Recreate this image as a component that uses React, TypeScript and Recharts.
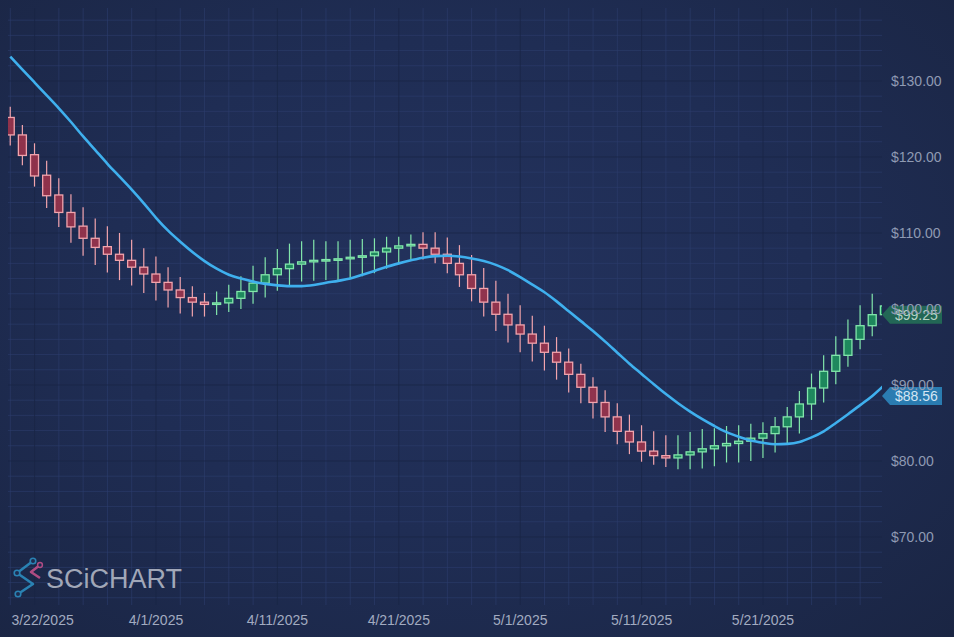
import React from 'react';
import { ComposedChart, Bar, Line, XAxis, YAxis, CartesianGrid, ReferenceDot } from 'recharts';

// ---- data ----
const opens = [
  125.2, 122.9, 120.3, 117.6, 115.0, 112.7, 110.9, 109.3, 108.2, 107.2,
  106.4, 105.5, 104.6, 103.5, 102.5, 101.5, 100.9, 100.6, 100.8, 101.4,
  102.3, 103.4, 104.5, 105.3, 105.9, 106.2, 106.4, 106.5, 106.6, 106.8,
  107.0, 107.5, 108.0, 108.3, 108.5, 108.0, 107.2, 106.0, 104.5, 102.7,
  100.9, 99.3, 97.9, 96.7, 95.5, 94.3, 93.0, 91.4, 89.7, 87.7,
  85.8, 83.9, 82.5, 81.3, 80.7, 80.4, 80.8, 81.2, 81.6, 82.0,
  82.3, 82.6, 83.0, 83.6, 84.5, 85.8, 87.5, 89.6, 91.8, 93.9,
  96.0, 97.8, 99.25,
];
const highs = [
  126.6, 124.2, 121.8, 119.5, 117.2, 115.1, 113.4, 111.9, 110.9, 110.0,
  109.1, 108.0, 106.9, 105.5, 104.2, 103.0, 102.1, 102.3, 103.2, 104.3,
  105.7, 106.8, 107.9, 108.6, 108.9, 109.1, 108.9, 108.9, 109.1, 109.2,
  109.3, 109.5, 109.5, 109.8, 110.1, 110.1, 109.4, 108.4, 107.1, 105.4,
  103.7, 102.0, 100.5, 99.1, 97.8, 96.3, 94.8, 92.8, 91.0, 89.3,
  87.6, 86.1, 84.7, 83.9, 83.4, 83.4, 83.8, 84.2, 84.3, 84.6,
  84.7, 84.9, 85.1, 85.8, 87.1, 89.2, 91.5, 93.9, 96.4, 98.6,
  100.5, 102.0, 101.5,
];
const lows = [
  121.5, 118.9, 116.1, 113.3, 110.8, 108.7, 107.0, 105.8, 104.8, 103.8,
  103.1, 102.1, 101.1, 100.2, 99.4, 99.0, 99.0, 99.2, 99.6, 100.0,
  100.7, 101.5, 102.4, 103.1, 103.6, 103.7, 103.8, 103.8, 104.0, 104.3,
  104.7, 105.3, 106.0, 106.5, 106.5, 106.0, 104.7, 102.9, 101.0, 99.0,
  97.1, 95.6, 94.3, 93.1, 91.9, 90.7, 89.0, 87.6, 85.6, 83.8,
  82.2, 80.9, 79.9, 79.5, 79.2, 78.9, 78.9, 79.0, 79.3, 79.8,
  79.8, 80.0, 80.4, 81.1, 82.1, 83.6, 85.4, 87.7, 90.1, 92.4,
  94.7, 96.4, 98.0,
];
const closes = [
  122.9, 120.2, 117.5, 114.9, 112.7, 110.8, 109.3, 108.1, 107.2, 106.4,
  105.5, 104.6, 103.5, 102.5, 101.5, 100.9, 100.6, 100.8, 101.4, 102.3,
  103.4, 104.5, 105.3, 105.9, 106.2, 106.4, 106.5, 106.6, 106.8, 107.0,
  107.5, 108.0, 108.3, 108.5, 108.0, 107.2, 106.0, 104.5, 102.7, 100.9,
  99.3, 97.9, 96.7, 95.5, 94.3, 93.0, 91.4, 89.7, 87.7, 85.8,
  83.9, 82.5, 81.3, 80.7, 80.4, 80.8, 81.2, 81.6, 82.0, 82.3,
  82.6, 83.0, 83.6, 84.5, 85.8, 87.5, 89.6, 91.8, 93.9, 96.0,
  97.8, 99.25, 100.4,
];
const trendLine = [
  133.2, 131.5, 129.8, 128.1, 126.4, 124.6, 122.7, 120.9, 119.1, 117.4,
  115.7, 113.9, 112.0, 110.3, 108.85, 107.5, 106.3, 105.3, 104.5, 104.0,
  103.6, 103.3, 103.1, 103.0, 103.0, 103.15, 103.45, 103.7, 104.0, 104.5,
  105.0, 105.55, 106.0, 106.4, 106.75, 106.95, 107.0, 106.9, 106.65, 106.3,
  105.8, 105.1, 104.2, 103.2, 102.2, 101.0, 99.7, 98.4, 97.1, 95.7,
  94.25, 92.8, 91.45, 90.1, 88.8, 87.6, 86.5, 85.5, 84.6, 83.8,
  83.2, 82.7, 82.4, 82.2, 82.25, 82.5, 83.1, 83.9, 85.0, 86.15,
  87.35, 88.56, 90.0,
];

const tickDays = [2, 12, 22, 32, 42, 52, 62];
const tickLabels = ['3/22/2025', '4/1/2025', '4/11/2025', '4/21/2025', '5/1/2025', '5/11/2025', '5/21/2025'];
const priceTicks = [70, 80, 90, 100, 110, 120, 130];
const minorPriceLines = [
  62, 64, 66, 68, 72, 74, 76, 78, 82, 84, 86, 88, 92, 94, 96, 98,
  102, 104, 106, 108, 112, 114, 116, 118, 122, 124, 126, 128, 132, 134, 136, 138,
];
const minorDayLines = [
  0, 4, 6, 8, 10, 14, 16, 18, 20, 24, 26, 28, 30, 34, 36, 38,
  40, 44, 46, 48, 50, 54, 56, 58, 60, 64, 66, 68, 70,
];
const xDomain: [number, number] = [-0.19, 71.8];
const yDomain: [number, number] = [61.05, 139.6];
const lastPrice = 99.25;
const lastTrend = 88.56;

const rows = opens.map((o, i) => ({
  day: i,
  open: o,
  high: highs[i],
  low: lows[i],
  close: closes[i],
  range: [lows[i], highs[i]],
  trend: trendLine[i],
}));

const FONT = '"Liberation Sans", Arial, Helvetica, sans-serif';

function mapScale(axis: any, v: number): number {
  const s = axis && axis.scale;
  if (typeof s === 'function') return s(v);
  if (s && typeof s.map === 'function') return s.map(v);
  return NaN;
}

const Candle = (props: any) => {
  const { x, y, width, height, payload } = props;
  if (!payload || !Number.isFinite(x) || !Number.isFinite(y)) return null;
  const { open, close, high, low } = payload;
  const top = Math.min(y, y + height);
  const h = Math.abs(height);
  const span = high - low;
  const k = span > 0 ? h / span : 0;
  const yO = top + (high - open) * k;
  const yC = top + (high - close) * k;
  const up = close >= open;
  const cx = x + width / 2;
  const bTop = Math.min(yO, yC);
  const bH = Math.max(Math.abs(yO - yC), 1.5);
  const stroke = up ? '#82e6ab' : '#f2a4ad';
  const fill = up ? '#1f9c5f' : '#a8354a';
  return (
    <g>
      <line x1={cx} x2={cx} y1={top} y2={bTop} stroke={stroke} strokeWidth={1.2} />
      <line x1={cx} x2={cx} y1={bTop + bH} y2={top + h} stroke={stroke} strokeWidth={1.2} />
      <rect x={cx - width / 2} y={bTop} width={width} height={bH} fill={fill} fillOpacity={0.82} stroke={stroke} strokeWidth={1.3} />
    </g>
  );
};

const makeBadge = (text: string, fill: string, color: string) => (p: any) => {
  const { cx, cy } = p;
  if (!Number.isFinite(cx) || !Number.isFinite(cy)) return null;
  const pts = `${cx},${cy} ${cx + 8},${cy - 9} ${cx + 60},${cy - 9} ${cx + 60},${cy + 9} ${cx + 8},${cy + 9}`;
  return (
    <g>
      <polygon points={pts} fill={fill} fillOpacity={0.9} />
      <text x={cx + 13} y={cy + 5} fill={color} fontSize={14} fontFamily={FONT}>{text}</text>
    </g>
  );
};

const XTick = (props: any) => {
  const { x, y, payload, index } = props;
  const idx = tickDays.indexOf(payload.value);
  const label = idx >= 0 ? tickLabels[idx] : '';
  return (
    <text x={index === 0 ? x + 8 : x} y={y} dy={10} textAnchor="middle" fill="#a2abc0" fontSize={14} fontFamily={FONT}>
      {label}
    </text>
  );
};

const Logo = () => (
  <svg width={954} height={637} style={{ position: 'absolute', left: 0, top: 0, pointerEvents: 'none' }}>
    <g opacity={0.9}>
      <polyline points="33,561 17,573 33,584 18,594" fill="none" stroke="#2c8cbf" strokeWidth={2.6} strokeLinejoin="round" />
      <polyline points="40,565 31,572 40,578" fill="none" stroke="#c0508a" strokeWidth={2.6} strokeLinejoin="round" />
      <circle cx={33} cy={561} r={2.8} fill="#1e2c50" stroke="#2c8cbf" strokeWidth={1.6} />
      <circle cx={17} cy={573} r={2.8} fill="#1e2c50" stroke="#2c8cbf" strokeWidth={1.6} />
      <circle cx={18} cy={594} r={2.8} fill="#1e2c50" stroke="#2c8cbf" strokeWidth={1.6} />
      <circle cx={40} cy={565} r={2.4} fill="#1e2c50" stroke="#c0508a" strokeWidth={1.5} />
    </g>
    <text x={46} y={588} fontSize={27} fontFamily={FONT} fill="#b4b9c7" opacity={0.88}>SCiCHART</text>
  </svg>
);

export default function App() {
  return (
    <div
      style={{
        position: 'absolute',
        left: 0,
        top: 0,
        width: 954,
        height: 637,
        overflow: 'hidden',
        background: 'radial-gradient(ellipse at 48% 45%, #23325d 0%, #1f2d54 50%, #1a2543 100%)',
      }}
    >
      <ComposedChart width={954} height={637} data={rows} margin={{ top: 8, right: 0, bottom: 0, left: 8 }}>
        <CartesianGrid
          stroke="#2d3e6e"
          strokeOpacity={0.6}
          strokeWidth={1}
          verticalCoordinatesGenerator={({ xAxis }: any) => minorDayLines.map((v) => mapScale(xAxis, v)).filter(Number.isFinite)}
          horizontalCoordinatesGenerator={({ yAxis }: any) => minorPriceLines.map((v) => mapScale(yAxis, v)).filter(Number.isFinite)}
        />
        <CartesianGrid
          stroke="#1a2645"
          strokeOpacity={0.75}
          strokeWidth={1}
          verticalCoordinatesGenerator={({ xAxis }: any) => tickDays.map((v) => mapScale(xAxis, v)).filter(Number.isFinite)}
          horizontalCoordinatesGenerator={({ yAxis }: any) => priceTicks.map((v) => mapScale(yAxis, v)).filter(Number.isFinite)}
        />
        <XAxis
          dataKey="day"
          type="number"
          domain={xDomain}
          allowDataOverflow
          ticks={tickDays}
          interval={0}
          height={32}
          axisLine={false}
          tickLine={false}
          tickSize={0}
          tickMargin={10}
          tick={<XTick />}
        />
        <YAxis
          orientation="right"
          type="number"
          domain={yDomain}
          allowDataOverflow
          ticks={priceTicks}
          interval={0}
          width={72}
          axisLine={false}
          tickLine={false}
          tickSize={0}
          tickMargin={9}
          tickFormatter={(v: number) => `$${v.toFixed(2)}`}
          tick={{ fill: '#8f9ab3', fontSize: 14, fontFamily: FONT }}
        />
        <Line
          dataKey="trend"
          type="monotone"
          stroke="#3fb0ee"
          strokeWidth={2.6}
          dot={false}
          activeDot={false}
          isAnimationActive={false}
        />
        <Bar dataKey="range" barSize={8} shape={<Candle />} isAnimationActive={false} />
        <ReferenceDot
          x={xDomain[1]}
          y={lastPrice}
          r={0}
          ifOverflow="visible"
          shape={makeBadge(`$${lastPrice.toFixed(2)}`, '#246e57', '#b7d3c6')}
        />
        <ReferenceDot
          x={xDomain[1]}
          y={lastTrend}
          r={0}
          ifOverflow="visible"
          shape={makeBadge(`$${lastTrend.toFixed(2)}`, '#2c85bd', '#d4e6f4')}
        />
      </ComposedChart>
      <Logo />
    </div>
  );
}
